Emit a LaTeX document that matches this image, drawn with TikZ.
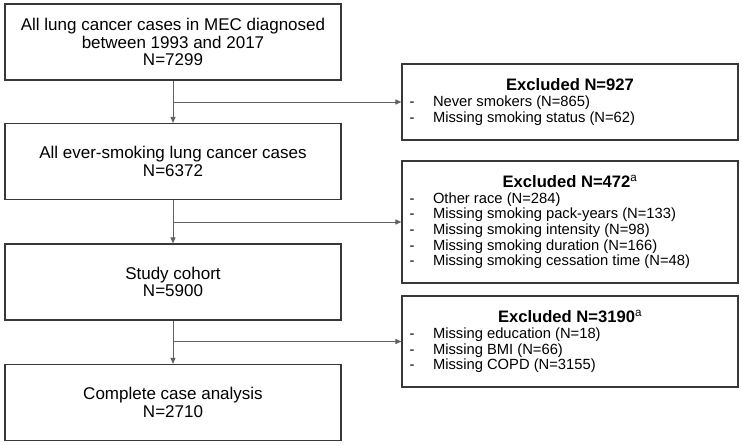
\documentclass[tikz,border=0pt]{standalone}
\usepackage{fontspec}
\setmainfont{Liberation Sans}
\usetikzlibrary{arrows.meta}
\newcommand{\bul}[1]{\makebox[23.5pt][l]{-}#1\par}
\newcommand{\ttl}[1]{{\centering\fontsize{16.6}{18}\selectfont\bfseries #1\par}}
\tikzset{
  lbox/.style={draw=black!78, line width=1.2pt, minimum width=336pt, minimum height=76pt,
    inner sep=0pt, align=center, font=\fontsize{17}{17.6}\selectfont},
  rbox/.style={draw=black!78, line width=1.2pt, minimum width=336pt, inner xsep=7.5pt, inner ysep=0pt,
    font=\fontsize{14.75}{15.6}\selectfont},
  conn/.style={draw=black!62, line width=1pt},
  arr/.style={conn, -{Triangle[length=6pt,width=5pt]}}
}
\begin{document}
\begin{tikzpicture}[x=1pt,y=-1pt]
\useasboundingbox (0,0) rectangle (742,445);
\node[lbox] (b1) at (173,42) {All lung cancer cases in MEC diagnosed\\between 1993 and 2017\\N=7299};
\node[lbox] (b2) at (173,161.5) {All ever-smoking lung cancer cases\\N=6372};
\node[lbox] (b3) at (173,282) {Study cohort\\N=5900};
\node[lbox] (b4) at (173,402.5) {Complete case analysis\\N=2710};

\node[rbox, minimum height=76pt] (r1) at (570,102) {\begin{minipage}{321pt}\ttl{Excluded N=927}\raggedright
\bul{Never smokers (N=865)}
\bul{Missing smoking status (N=62)}\end{minipage}};
\node[rbox, minimum height=122pt] (r2) at (570,222) {\begin{minipage}{321pt}\ttl{Excluded N=472\textsuperscript{\normalfont a}}\raggedright
\bul{Other race (N=284)}
\bul{Missing smoking pack-years (N=133)}
\bul{Missing smoking intensity (N=98)}
\bul{Missing smoking duration (N=166)}
\bul{Missing smoking cessation time (N=48)}\end{minipage}};
\node[rbox, minimum height=91pt] (r3) at (570,341.5) {\begin{minipage}{321pt}\ttl{Excluded N=3190\textsuperscript{\normalfont a}}\raggedright
\bul{Missing education (N=18)}
\bul{Missing BMI (N=66)}
\bul{Missing COPD (N=3155)}\end{minipage}};

\draw[arr] (b1.south) -- (b2.north);
\draw[arr] (b2.south) -- (b3.north);
\draw[arr] (b3.south) -- (b4.north);
\draw[arr] (b1.south |- r1.west) -- (r1.west);
\draw[arr] (b2.south |- r2.west) -- (r2.west);
\draw[arr] (b3.south |- r3.west) -- (r3.west);
\end{tikzpicture}
\end{document}
